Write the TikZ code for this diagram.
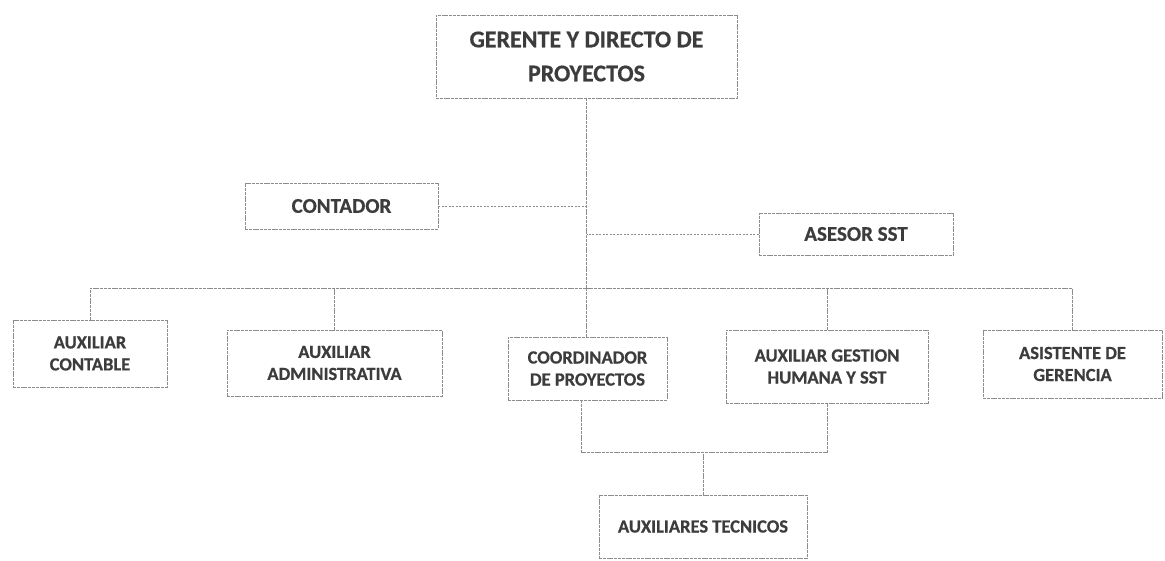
\documentclass[tikz,border=0pt]{standalone}
\usepackage{fontspec}
\setmainfont{Carlito}[FakeBold=0.6]
\definecolor{txt}{HTML}{3C3C3C}
\definecolor{ln}{HTML}{8C8C8C}
\begin{document}
\begin{tikzpicture}[x=1pt,y=-1pt,
  box/.style={draw=ln, line width=0.8pt, dash pattern=on 3pt off 0.8pt, fill=white,
    text=txt, align=center, inner sep=0pt, font=\bfseries\fontsize{18.5}{22}\selectfont},
  tree/.style={draw=ln, line width=0.8pt, dash pattern=on 3pt off 0.8pt},
  link/.style={draw=ln, line width=0.8pt, dash pattern=on 2pt off 1.5pt}]
\useasboundingbox[fill=white] (0,0) rectangle (1165,560);

\node[box, minimum width=301, minimum height=83, font=\bfseries\fontsize{24}{34}\selectfont] (top) at (586.5,56.5) {GERENTE Y DIRECTO DE\\PROYECTOS};
\node[box, minimum width=193, minimum height=46, font=\bfseries\fontsize{21}{24}\selectfont] (cont) at (341.5,206) {CONTADOR};
\node[box, minimum width=194, minimum height=42, font=\bfseries\fontsize{21}{24}\selectfont] (ases) at (856,234) {ASESOR SST};

\node[box, minimum width=154, minimum height=67] (auxc) at (90,353.5) {AUXILIAR\\CONTABLE};
\node[box, minimum width=215, minimum height=66] (auxa) at (334.5,363) {AUXILIAR\\ADMINISTRATIVA};
\node[box, minimum width=159, minimum height=63] (coord) at (587.5,368.5) {COORDINADOR\\DE PROYECTOS};
\node[box, minimum width=202, minimum height=73] (gest) at (827,366.5) {AUXILIAR GESTION\\HUMANA Y SST};
\node[box, minimum width=179, minimum height=68] (asis) at (1072.5,364) {ASISTENTE DE\\GERENCIA};
\node[box, minimum width=208, minimum height=63] (tec) at (703,526.5) {AUXILIARES TECNICOS};

\coordinate (bus) at (586,288);
\coordinate (join) at (705,452);

\draw[tree] (top.south) -- (top.south |- coord.north);
\draw[link] (cont.east) -- (cont.east -| top.south);
\draw[link] (ases.west) -- (ases.west -| top.south);

\draw[tree] (auxc.north) -- (auxc.north |- bus) -- (asis.north |- bus) -- (asis.north);
\draw[tree] (auxa.north) -- (auxa.north |- bus);
\draw[tree] (gest.north) -- (gest.north |- bus);

\draw[tree] ([xshift=-6pt]coord.south) -- ([xshift=-6pt]coord.south |- join) -- (gest.south |- join) -- (gest.south);
\draw[tree] (tec.north) -- (tec.north |- join);
\end{tikzpicture}
\end{document}
